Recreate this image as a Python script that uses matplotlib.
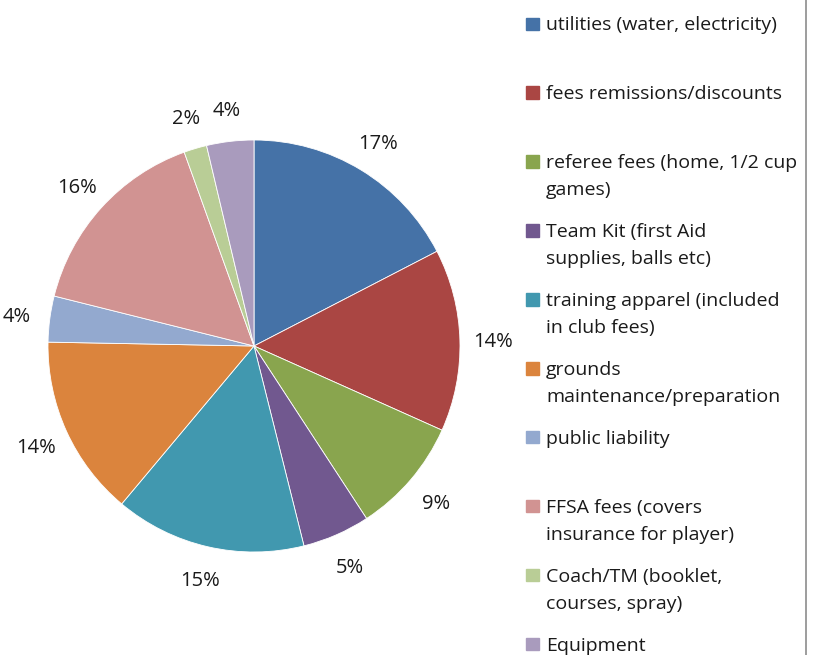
import matplotlib
matplotlib.use('Agg')
import matplotlib.pyplot as plt
from matplotlib.patches import Rectangle
from matplotlib.lines import Line2D

plt.rcParams['font.family'] = ['Open Sans', 'DejaVu Sans']

categories = ['utilities (water, electricity)',
              'fees remissions/discounts',
              'referee fees (home, 1/2 cup\ngames)',
              'Team Kit (first Aid\nsupplies, balls etc)',
              'training apparel (included\nin club fees)',
              'grounds\nmaintenance/preparation',
              'public liability',
              'FFSA fees (covers\ninsurance for player)',
              'Coach/TM (booklet,\ncourses, spray)',
              'Equipment']
shares = [17.4, 14.3, 9.1, 5.3, 15.0, 14.2, 3.6, 15.6, 1.8, 3.7]
colors = ['#4572A7', '#AA4643', '#89A54E', '#71588F', '#4198AF',
          '#DB843D', '#93A9CF', '#D19392', '#B9CD96', '#A99BBD']

W, H = 814, 655
fig = plt.figure(figsize=(W/100, H/100), dpi=100)

cx, cy, r = 254, 346, 206
ax = fig.add_axes([(cx-r)/W, (H-cy-r)/H, 2*r/W, 2*r/H])
wedges, texts, autotexts = ax.pie(shares, colors=colors, startangle=90, counterclock=False,
                                  autopct=lambda p: '%.0f%%' % p, pctdistance=1.16,
                                  wedgeprops=dict(edgecolor='white', linewidth=0.6),
                                  textprops=dict(fontsize=14.5, color='#1a1a1a'))
for t in autotexts:
    t.set_va('center_baseline')
ax.set_xlim(-1, 1)
ax.set_ylim(-1, 1)
ax.set_aspect('equal')
ax.axis('off')

# legend drawn by hand so the swatch sits on the first text line
base0, step, lead = 30.5, 68.9, 27
for i, (lab, col) in enumerate(zip(categories, colors)):
    yb = base0 + i*step
    fig.patches.append(Rectangle((526/W, 1-(yb-0.5)/H), 12.5/W, 12.5/H, color=col,
                                 transform=fig.transFigure))
    for k, line in enumerate(lab.split('\n')):
        fig.text(546/W, 1-(yb + k*lead)/H, line, fontsize=14, va='baseline', ha='left',
                 color='#1a1a1a')

fig.add_artist(Line2D([806/W, 806/W], [0, 1], color='#8c8c8c', linewidth=1.2,
                      transform=fig.transFigure))

fig.savefig('out.png', dpi=100)
